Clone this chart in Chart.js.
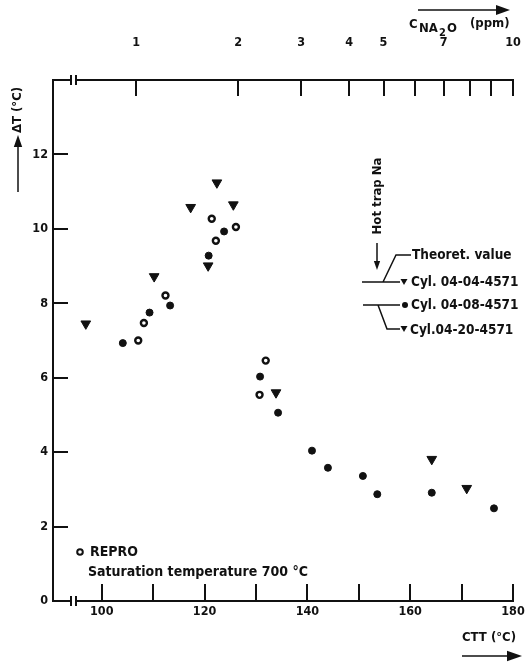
<!DOCTYPE html>
<html>
<head>
<meta charset="utf-8">
<script src="https://cdn.jsdelivr.net/npm/chart.js@4.4.1/dist/chart.umd.min.js"></script>
<style>
  html, body { margin: 0; padding: 0; background: #fff; }
  #wrap { width: 528px; height: 666px; }
</style>
</head>
<body>
<div id="wrap"><canvas id="chart" width="528" height="666"></canvas></div>
<script>
// CTT (°C) on x, ΔT (°C) on y
const reproX = [107.1, 108.2, 112.4, 121.4, 122.2, 126.1, 131.9, 130.7];
const reproY = [7.0, 7.47, 8.21, 10.27, 9.68, 10.05, 6.46, 5.54];

const cyl0408X = [104.1, 109.3, 113.3, 120.8, 123.8, 130.8, 134.3, 140.9, 144.0, 150.8, 153.6, 164.2, 176.3];
const cyl0408Y = [6.93, 7.75, 7.94, 9.28, 9.93, 6.03, 5.06, 4.04, 3.58, 3.36, 2.87, 2.91, 2.49];

const cyl0404X = [96.9, 110.2, 117.3, 122.4, 171.0];
const cyl0404Y = [7.45, 8.72, 10.58, 11.24, 3.03];

const cyl0420X = [120.7, 125.6, 133.9, 164.2];
const cyl0420Y = [9.01, 10.65, 5.6, 3.81];

// bottom axis (CTT) and left axis (ΔT)
const cttTicks = [100, 110, 120, 130, 140, 150, 160, 170, 180];
const cttLabels = ['100', '', '120', '', '140', '', '160', '', '180'];
const dtTicks = [0, 2, 4, 6, 8, 10, 12];

// top axis: C Na2O (ppm), placed at the matching CTT
const cnaTickCtt = [106.68, 126.53, 138.79, 148.13, 154.81, 160.85, 166.49, 171.55, 175.77, 180];
const cnaLabels = ['1', '2', '3', '4', '5', '', '7', '', '', '10'];

const FONT = '"DejaVu Sans Condensed", "DejaVu Sans", sans-serif';

function pts(xs, ys) {
    return xs.map((x, i) => ({ x: x, y: ys[i] }));
}

function arrow(ctx, x1, y1, x2, y2, head) {
    const a = Math.atan2(y2 - y1, x2 - x1);
    ctx.beginPath();
    ctx.moveTo(x1, y1);
    ctx.lineTo(x2 - Math.cos(a) * head, y2 - Math.sin(a) * head);
    ctx.stroke();
    ctx.beginPath();
    ctx.moveTo(x2, y2);
    ctx.lineTo(x2 - Math.cos(a) * head - Math.sin(a) * head * 0.35, y2 - Math.sin(a) * head + Math.cos(a) * head * 0.35);
    ctx.lineTo(x2 - Math.cos(a) * head + Math.sin(a) * head * 0.35, y2 - Math.sin(a) * head - Math.cos(a) * head * 0.35);
    ctx.closePath();
    ctx.fill();
}

function triDown(ctx, cx, cy, r) {
    ctx.beginPath();
    ctx.moveTo(cx - r * 0.87, cy - r * 0.5);
    ctx.lineTo(cx + r * 0.87, cy - r * 0.5);
    ctx.lineTo(cx, cy + r);
    ctx.closePath();
    ctx.fill();
}

// keep the axes from reserving room for the end labels
function noSidePad(s, h) {
    s.height = h;
    s.paddingLeft = 0;
    s.paddingRight = 0;
}

const extras = {
    id: 'extras',
    afterDraw(chart) {
        const ctx = chart.ctx;
        const area = chart.chartArea;
        ctx.save();
        ctx.fillStyle = '#111';
        ctx.strokeStyle = '#111';
        ctx.lineWidth = 2;

        // axis breaks
        [area.top, area.bottom].forEach(yy => {
            ctx.fillStyle = '#fff';
            ctx.fillRect(area.left + 19, yy - 2, 4, 4);
            ctx.fillStyle = '#111';
            ctx.beginPath();
            ctx.moveTo(area.left + 18, yy - 5); ctx.lineTo(area.left + 18, yy + 5);
            ctx.moveTo(area.left + 23, yy - 5); ctx.lineTo(area.left + 23, yy + 5);
            ctx.stroke();
        });

        // y title
        ctx.save();
        ctx.translate(18, 110);
        ctx.rotate(-Math.PI / 2);
        ctx.font = 'bold 13px ' + FONT;
        ctx.textAlign = 'center';
        ctx.textBaseline = 'middle';
        ctx.fillText('\u0394T (\u00B0C)', 0, 0);
        ctx.restore();
        ctx.lineWidth = 1.5;
        arrow(ctx, 18, 192, 18, 135, 12);

        // top title
        ctx.textBaseline = 'middle';
        ctx.textAlign = 'left';
        ctx.font = 'bold 13px ' + FONT;
        ctx.fillText('C', 409, 25);
        ctx.fillText('NA', 419, 29);
        ctx.fillText('O', 447, 29);
        ctx.font = 'bold 11px ' + FONT;
        ctx.fillText('2', 439, 33);
        ctx.font = 'bold 13px ' + FONT;
        ctx.fillText('(ppm)', 470, 24);
        arrow(ctx, 418, 10, 510, 10, 14);

        // bottom title
        ctx.font = 'bold 13px ' + FONT;
        ctx.fillText('CTT (\u00B0C)', 462, 638);
        arrow(ctx, 462, 656, 522, 656, 15);

        // REPRO note
        ctx.font = 'bold 14px ' + FONT;
        ctx.lineWidth = 2;
        ctx.beginPath();
        ctx.arc(80, 552, 2.8, 0, Math.PI * 2);
        ctx.stroke();
        ctx.fillText('REPRO', 90, 552);
        ctx.fillText('Saturation temperature 700 \u00B0C', 88, 572);

        // hot trap marker
        ctx.font = 'bold 13px ' + FONT;
        ctx.save();
        ctx.translate(378, 196);
        ctx.rotate(-Math.PI / 2);
        ctx.textAlign = 'center';
        ctx.fillText('Hot trap Na', 0, 0);
        ctx.restore();
        ctx.lineWidth = 1.5;
        arrow(ctx, 377, 243, 377, 270, 9);

        // legend
        ctx.lineWidth = 1.5;
        ctx.beginPath();
        ctx.moveTo(362, 282); ctx.lineTo(400, 282);
        ctx.moveTo(383, 282); ctx.lineTo(396, 255); ctx.lineTo(411, 255);
        ctx.moveTo(363, 305); ctx.lineTo(400, 305);
        ctx.moveTo(378, 305); ctx.lineTo(387, 329); ctx.lineTo(400, 329);
        ctx.stroke();
        triDown(ctx, 404, 281, 4);
        ctx.beginPath(); ctx.arc(405, 305, 3, 0, Math.PI * 2); ctx.fill();
        triDown(ctx, 404, 328, 4);
        ctx.font = 'bold 13.5px ' + FONT;
        ctx.fillText('Theoret. value', 412, 255);
        ctx.fillText('Cyl. 04-04-4571', 411, 282);
        ctx.fillText('Cyl. 04-08-4571', 411, 305);
        ctx.fillText('Cyl.04-20-4571', 410, 330);
        ctx.restore();
    }
};

const triStyle = { pointStyle: 'triangle', rotation: 180, pointRadius: 5.6, backgroundColor: '#111', borderColor: '#111', borderWidth: 1 };

new Chart(document.getElementById('chart').getContext('2d'), {
    type: 'scatter',
    data: {
        datasets: [
            Object.assign({ label: 'Cyl. 04-04-4571', data: pts(cyl0404X, cyl0404Y) }, triStyle),
            { label: 'Cyl. 04-08-4571', data: pts(cyl0408X, cyl0408Y), pointStyle: 'circle', pointRadius: 3.5, backgroundColor: '#111', borderColor: '#111', borderWidth: 1 },
            Object.assign({ label: 'Cyl.04-20-4571', data: pts(cyl0420X, cyl0420Y) }, triStyle),
            { label: 'REPRO', data: pts(reproX, reproY), pointStyle: 'circle', pointRadius: 3, backgroundColor: '#fff', borderColor: '#111', borderWidth: 2.4 }
        ]
    },
    options: {
        responsive: false,
        animation: false,
        devicePixelRatio: 1,
        layout: { padding: { left: 0, right: 15, top: 0, bottom: 0 } },
        plugins: { legend: { display: false }, tooltip: { enabled: false } },
        scales: {
            x: {
                type: 'linear', position: 'bottom', min: 90.52, max: 180,
                afterFit: s => noSidePad(s, 65),
                afterBuildTicks: s => { s.ticks = cttTicks.map(v => ({ value: v })); },
                border: { display: true, color: '#111', width: 2 },
                grid: { drawOnChartArea: false, drawTicks: true, tickLength: -17, color: '#111', lineWidth: 2 },
                ticks: {
                    autoSkip: false, maxRotation: 0, padding: 20, color: '#111',
                    font: { family: FONT, size: 12.5, weight: 'bold' },
                    callback: (v) => cttLabels[cttTicks.indexOf(v)]
                }
            },
            xTop: {
                type: 'linear', position: 'top', min: 90.52, max: 180,
                afterFit: s => noSidePad(s, 80),
                afterBuildTicks: s => { s.ticks = cnaTickCtt.map(v => ({ value: v })); },
                border: { display: true, color: '#111', width: 2 },
                grid: { drawOnChartArea: false, drawTicks: true, tickLength: -16, color: '#111', lineWidth: 2 },
                ticks: {
                    autoSkip: false, maxRotation: 0, padding: 46, color: '#111',
                    font: { family: FONT, size: 12.5, weight: 'bold' },
                    callback: (v) => cnaLabels[cnaTickCtt.indexOf(v)]
                }
            },
            y: {
                type: 'linear', position: 'left', min: 0, max: 14,
                afterFit: s => { s.width = 53; },
                afterBuildTicks: s => { s.ticks = dtTicks.map(v => ({ value: v })); },
                border: { display: true, color: '#111', width: 2 },
                grid: { drawOnChartArea: false, drawTicks: true, tickLength: -15, color: '#111', lineWidth: 2 },
                ticks: {
                    padding: 20, color: '#111',
                    font: { family: FONT, size: 12.5, weight: 'bold' }
                }
            }
        }
    },
    plugins: [extras]
});
</script>
</body>
</html>
